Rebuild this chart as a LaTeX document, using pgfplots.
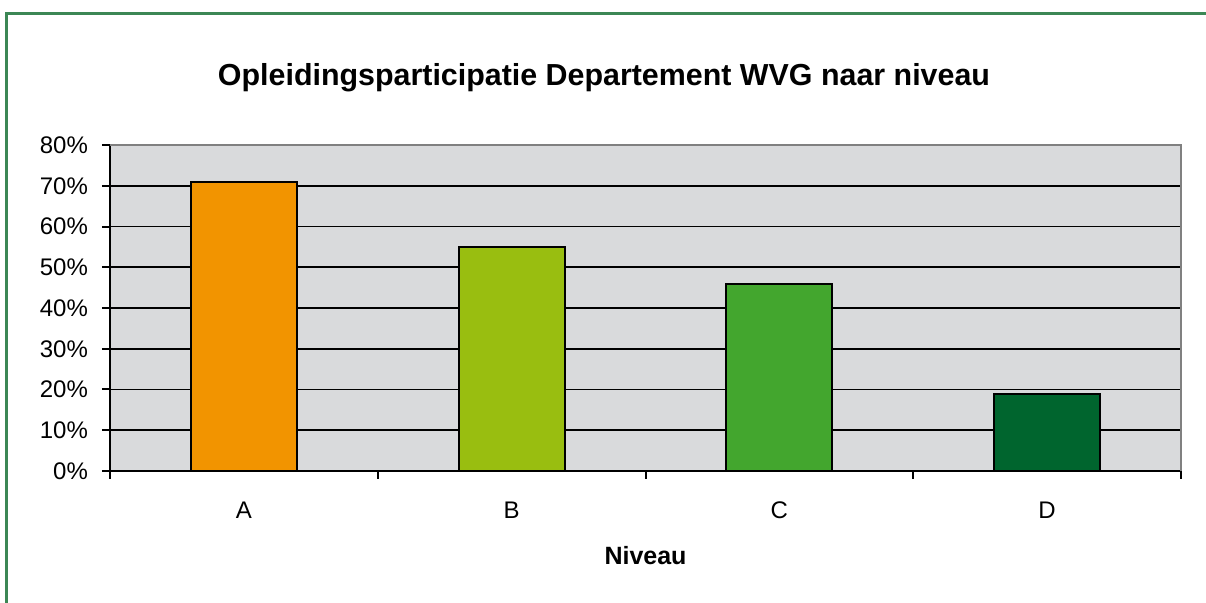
\documentclass[border=0pt]{standalone}
\usepackage{pgfplots}
\pgfplotsset{compat=1.18}
\usepackage{fontspec}
\setmainfont{Liberation Sans}
\definecolor{frameg}{RGB}{60,135,85}
\definecolor{cA}{RGB}{242,148,0}
\definecolor{cB}{RGB}{153,190,16}
\definecolor{cC}{RGB}{67,166,46}
\definecolor{cD}{RGB}{0,101,46}
\definecolor{plotbg}{RGB}{217,218,220}
\begin{document}
\begin{tikzpicture}
\useasboundingbox (0pt,0pt) rectangle (603pt,301.5pt);
\draw[frameg,line width=1.5pt] (3pt,0pt) -- (3pt,294.5pt) -- (603pt,294.5pt);
\node[font=\fontsize{15.2}{18}\selectfont\bfseries] at (302pt,262.5pt) {Opleidingsparticipatie Departement WVG naar niveau};
\begin{axis}[
  at={(55pt,66pt)}, anchor=south west,
  width=535.5pt, height=163pt, scale only axis=true,
  xmin=-0.5, xmax=3.5, ymin=0, ymax=80,
  axis background/.style={fill=plotbg},
  axis x line*=bottom, axis y line*=left,
  axis line style={black, line width=1pt},
  ytick={0,10,...,80},
  yticklabel={\pgfmathprintnumber{\tick}\%},
  ymajorgrids=true,
  grid style={black, line width=0.9pt},
  xtick={-0.5,0.5,1.5,2.5,3.5},
  xticklabels={},
  major tick length=4pt,
  tick align=outside,
  tick style={black, line width=1pt},
  extra x ticks={0,1,2,3},
  extra x tick labels={A,B,C,D},
  extra x tick style={major tick length=0pt, grid=none, tick style={draw=none}},
  /pgf/number format/assume math mode=true,
  ticklabel style={font=\fontsize{12}{14}\selectfont},
  xticklabel style={yshift=-12pt},
  yticklabel style={xshift=-3.5pt},
  xlabel={\textbf{Niveau}},
  xlabel style={font=\fontsize{12.5}{14}\selectfont, at={(axis description cs:0.5,-0.26)}, anchor=center},
  ybar, bar width=53pt, bar shift=0pt,
  clip=false,
]
\draw[gray, line width=1pt] (axis cs:-0.5,80) -- (axis cs:3.5,80) -- (axis cs:3.5,0);
\addplot[fill=cA, draw=black, line width=1pt] coordinates {(0,71)};
\addplot[fill=cB, draw=black, line width=1pt] coordinates {(1,55)};
\addplot[fill=cC, draw=black, line width=1pt] coordinates {(2,46)};
\addplot[fill=cD, draw=black, line width=1pt] coordinates {(3,19)};
\end{axis}
\end{tikzpicture}
\end{document}
